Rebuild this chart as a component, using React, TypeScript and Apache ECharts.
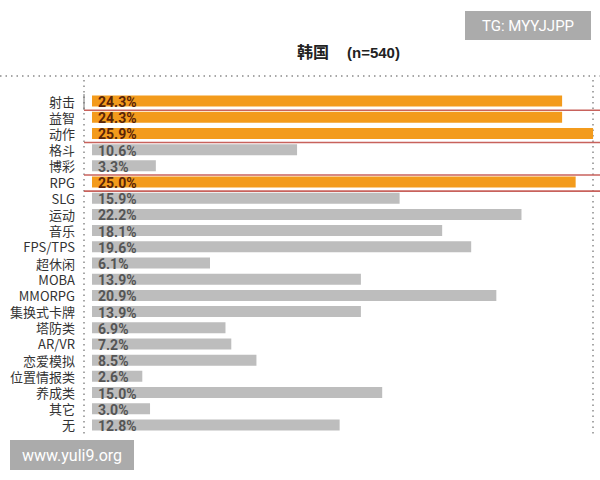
import React, { useEffect, useRef } from "react";
import * as echarts from "echarts";

const categories = [
  "射击", "益智", "动作", "格斗", "博彩", "RPG", "SLG", "运动", "音乐", "FPS/TPS",
  "超休闲", "MOBA", "MMORPG", "集换式卡牌", "塔防类", "AR/VR", "恋爱模拟", "位置情报类",
  "养成类", "其它", "无",
];
const values = [
  24.3, 24.3, 25.9, 10.6, 3.3, 25.0, 15.9, 22.2, 18.1, 19.6,
  6.1, 13.9, 20.9, 13.9, 6.9, 7.2, 8.5, 2.6, 15.0, 3.0, 12.8,
];
const highlighted = ["射击", "益智", "动作", "RPG"];
// red separator lines drawn after these category indices
const separatorsAfter = [0, 2, 4, 5];

const ORANGE = "#f39b1c";
const GREY = "#bdbdbd";

export default function App() {
  const ref = useRef<HTMLDivElement>(null);
  useEffect(() => {
    if (!ref.current) return;
    const chart = echarts.init(ref.current, null, { renderer: "svg" });
    const data = values.map((v, i) => {
      const hi = highlighted.includes(categories[i]);
      return {
        value: v,
        itemStyle: { color: hi ? ORANGE : GREY },
        label: { color: hi ? "#5a2408" : "#555555" },
      };
    });
    chart.setOption({
      animation: false,
      backgroundColor: "#ffffff",
      grid: { left: 92, right: 5, top: 93, bottom: 47, containLabel: false },
      xAxis: {
        type: "value",
        min: 0,
        max: 26,
        show: false,
      },
      yAxis: {
        type: "category",
        data: categories,
        inverse: true,
        axisLine: { show: false },
        axisTick: { show: false },
        splitLine: { show: false },
        axisLabel: {
          interval: 0,
          margin: 17,
          fontSize: 13,
          color: "#333",
          lineHeight: 13,
          fontFamily: "'Noto Sans CJK SC', 'Noto Sans', sans-serif",
        },
      },
      series: [
        {
          type: "bar",
          data,
          barWidth: 11,
          label: {
            show: true,
            position: "insideLeft",
            distance: 6,
            offset: [0, 1],
            formatter: (p: any) => p.value.toFixed(1) + "%",
            fontSize: 14,
            lineHeight: 14,
            fontWeight: "bold",
            fontFamily: "'Liberation Sans Narrow', 'Roboto', sans-serif",
          },
        },
      ],
    });

    const dot = { stroke: "#8a8a8a", lineWidth: 1.5, lineDash: [1.5, 4] };
    const graphics: any[] = [
      { type: "line", shape: { x1: 0, y1: 76, x2: 600, y2: 76 }, style: dot, silent: true },
      { type: "line", shape: { x1: 84, y1: 80, x2: 84, y2: 436 }, style: dot, silent: true },
      { type: "line", shape: { x1: 593, y1: 80, x2: 593, y2: 436 }, style: dot, silent: true },
      { type: "line", shape: { x1: 84, y1: 94, x2: 84, y2: 110 }, style: { stroke: "#777", lineWidth: 1 }, silent: true },
      {
        type: "text",
        x: 297,
        y: 51,
        style: {
          text: "韩国",
          fill: "#222",
          fontSize: 16,
          fontWeight: "bold",
          fontFamily: "'Noto Sans CJK SC', sans-serif",
          verticalAlign: "middle",
        },
      },
      {
        type: "text",
        x: 347,
        y: 52,
        style: {
          text: "(n=540)",
          fill: "#222",
          fontSize: 15,
          fontWeight: "bold",
          fontFamily: "'Liberation Sans', Arial, sans-serif",
          verticalAlign: "middle",
        },
      },
    ];
    separatorsAfter.forEach((i) => {
      const y1 = chart.convertToPixel({ yAxisIndex: 0 }, categories[i]) as number;
      const y2 = chart.convertToPixel({ yAxisIndex: 0 }, categories[i + 1]) as number;
      const y = (y1 + y2) / 2 + 1;
      graphics.push({
        type: "line",
        shape: { x1: 84, y1: y, x2: 600, y2: y },
        style: { stroke: "#c8625c", lineWidth: 1.6 },
        silent: true,
      });
    });
    graphics.push(
      {
        type: "group",
        left: 465,
        top: 11,
        children: [
          { type: "rect", shape: { x: 0, y: 0, width: 126, height: 29 }, style: { fill: "#ababab" } },
          {
            type: "text",
            x: 63,
            y: 15,
            style: {
              text: "TG: MYYJJPP",
              fill: "#ffffff",
              fontSize: 15,
              fontFamily: "Roboto, sans-serif",
              align: "center",
              verticalAlign: "middle",
            },
          },
        ],
      },
      {
        type: "group",
        left: 10,
        top: 440,
        children: [
          { type: "rect", shape: { x: 0, y: 0, width: 124, height: 30 }, style: { fill: "#ababab" } },
          {
            type: "text",
            x: 62,
            y: 15,
            style: {
              text: "www.yuli9.org",
              fill: "#ffffff",
              fontSize: 16,
              fontFamily: "Roboto, sans-serif",
              align: "center",
              verticalAlign: "middle",
            },
          },
        ],
      }
    );
    chart.setOption({ graphic: graphics });

    return () => chart.dispose();
  }, []);
  return <div ref={ref} style={{ width: 600, height: 480, position: "absolute", left: 0, top: 0 }} />;
}
